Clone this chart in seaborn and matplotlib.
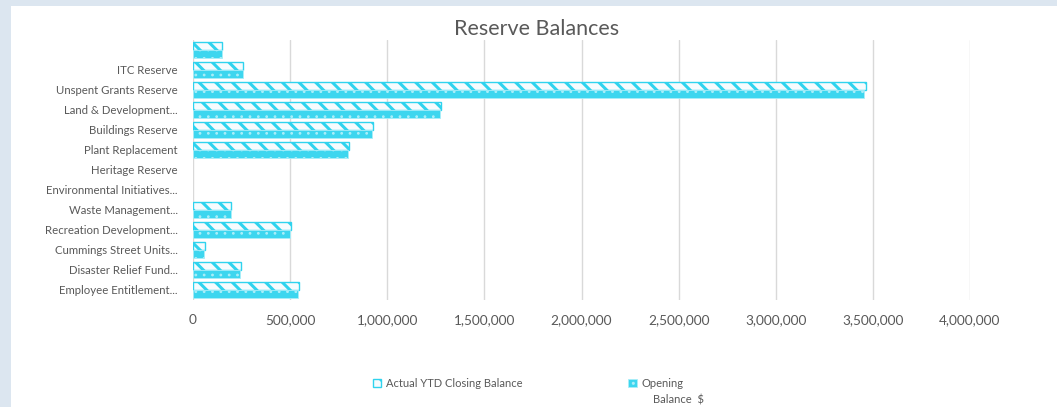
import matplotlib
matplotlib.use("Agg")
import matplotlib.pyplot as plt
import seaborn as sns
import pandas as pd
from matplotlib.patches import Patch, Rectangle
from matplotlib.ticker import FuncFormatter

categories = [
    "",
    "ITC Reserve",
    "Unspent Grants Reserve",
    "Land & Development...",
    "Buildings Reserve",
    "Plant Replacement",
    "Heritage Reserve",
    "Environmental Initiatives...",
    "Waste Management...",
    "Recreation Development...",
    "Cummings Street Units...",
    "Disaster Relief Fund...",
    "Employee Entitlement...",
]
closing_balance = [150000, 258000, 3463000, 1276000, 925000, 801000, 0, 0,
                   198000, 505000, 62000, 246000, 546000]
opening_balance = [147000, 255000, 3453000, 1271000, 922000, 797000, 0, 0,
                   197000, 501000, 58000, 243000, 542000]
series_names = ["Actual YTD Closing Balance", "Opening Balance $"]
legend_labels = ["Actual YTD Closing Balance", "Opening"]
legend_label_second_line = "Balance  $"
x_ticks = [0, 500000, 1000000, 1500000, 2000000, 2500000, 3000000, 3500000, 4000000]

df = pd.DataFrame({
    "category": categories * 2,
    "value": closing_balance + opening_balance,
    "series": [series_names[0]] * len(categories) + [series_names[1]] * len(categories),
})

sns.set_theme(style="white")
plt.rcParams["font.family"] = ["Lato", "DejaVu Sans"]

CYAN = "#2fd3ee"
TEXT = "#595959"


def style_closing(p):
    p.set_facecolor("#f6fbfd")
    p.set_edgecolor(CYAN)
    p.set_hatch("\\\\")
    p.set_linewidth(1.0)
    if hasattr(p, "set_hatch_linewidth"):
        p.set_hatch_linewidth(2.2)


def style_opening(p):
    p.set_facecolor("#3dd6ef")
    p.set_edgecolor("#a9eef9")
    p.set_hatch("..")
    p.set_linewidth(0.6)
    if hasattr(p, "set_hatch_linewidth"):
        p.set_hatch_linewidth(0.8)


fig = plt.figure(figsize=(10.57, 4.07), dpi=100)
fig.patch.set_facecolor("white")
fig.add_artist(Rectangle((0, 0), 11 / 1057, 1, transform=fig.transFigure,
                         facecolor="#dce6f0", edgecolor="none", zorder=0))
fig.add_artist(Rectangle((0, 1 - 6 / 407), 1, 6 / 407, transform=fig.transFigure,
                         facecolor="#dce6f0", edgecolor="none", zorder=0))

ax = fig.add_axes([193 / 1057, 1 - 300 / 407, (970 - 193) / 1057, 260 / 407])
sns.barplot(data=df, y="category", x="value", hue="series", orient="h",
            order=categories, hue_order=series_names, width=0.76, gap=0,
            ax=ax, legend=False, errorbar=None)

n = len(categories)
for i, bar in enumerate(ax.patches[:2 * n]):
    if i < n:
        style_closing(bar)
    else:
        style_opening(bar)
    if bar.get_width() == 0:
        bar.set_visible(False)

ax.set_xlim(0, 4000000)
ax.set_ylim(n - 0.5, -0.5)
ax.set_xticks(x_ticks)
ax.xaxis.set_major_formatter(FuncFormatter(lambda v, p: f"{int(v):,}"))
ax.grid(axis="x", color="#d9d9d9", linewidth=1)
ax.grid(axis="y", visible=False)
ax.set_axisbelow(True)
for s in ax.spines.values():
    s.set_visible(False)
ax.tick_params(axis="x", length=0, pad=10, labelsize=9.8, labelcolor=TEXT)
ax.tick_params(axis="y", length=0, pad=11, labelsize=8.2, labelcolor=TEXT)
ax.set_xlabel("")
ax.set_ylabel("")

fig.text(537 / 1057, 1 - 29 / 407, "Reserve Balances", ha="center", va="center",
         fontsize=15.5, color=TEXT)

h1 = Patch()
style_closing(h1)
h2 = Patch()
style_opening(h2)
leg = fig.legend([h1, h2], legend_labels, loc="upper left",
                 bbox_to_anchor=(373 / 1057, 1 - 378 / 407), ncol=2,
                 frameon=False, fontsize=8.0, handlelength=0.75, handleheight=0.75,
                 handletextpad=0.45, columnspacing=9.5, labelcolor=TEXT,
                 borderpad=0, borderaxespad=0)
fig.text(653 / 1057, 1 - 400 / 407, legend_label_second_line, ha="left", va="center",
         fontsize=8.0, color=TEXT)

fig.savefig("out.png", dpi=100, facecolor="white")
